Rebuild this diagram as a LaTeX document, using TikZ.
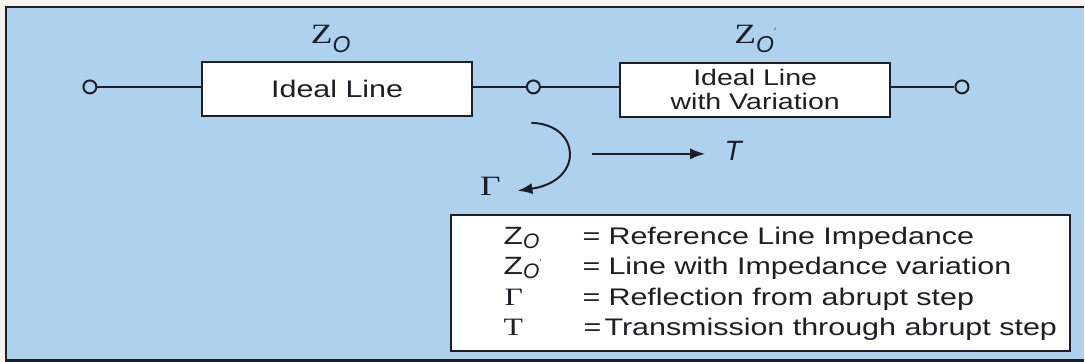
\documentclass[tikz,border=0pt]{standalone}
\usepackage{fontspec}
\setmainfont{Liberation Sans}[FakeStretch=1.27]
\newfontfamily\serifZ{Liberation Serif}[FakeStretch=1.27]
\newfontfamily\plainsans{Liberation Sans}
\usetikzlibrary{arrows.meta}
\definecolor{bgblue}{RGB}{174,209,238}
\definecolor{ink}{RGB}{30,30,36}
\definecolor{cream}{RGB}{246,244,236}
\newcommand{\fsz}[1]{\fontsize{#1}{#1}\selectfont}
\newcommand{\zlab}{{\serifZ Z}\raisebox{-9pt}{\plainsans\itshape\fsz{23}O}}
\newcommand{\zleg}{Z\raisebox{-4pt}{\plainsans\itshape\fsz{21}O}}
\begin{document}
\begin{tikzpicture}[x=1pt,y=-1pt,
  wire/.style={draw=ink,line width=2.1pt},
  term/.style={circle,draw=ink,line width=2pt,fill=bgblue,minimum size=13pt,inner sep=0pt},
  linebox/.style={draw=ink,line width=2pt,fill=white,rectangle,inner sep=0pt,align=center,text=ink},
  txt/.style={inner sep=0pt,text=ink},
  arr/.style={draw=ink,line width=2pt,-{Latex[length=15pt,width=11pt]}},
  frameline/.style={draw=ink,line width=2.4pt},
]
% background and frame
\fill[cream] (0,0) rectangle (1085,362);
\fill[bgblue] (6,7) rectangle (1085,361);
\draw[frameline] (1085,7) -- (6,7) -- (6,361) -- (1085,361);
\useasboundingbox (0,0) rectangle (1085,362);

% boxes
\node[linebox,minimum width=271pt,minimum height=54pt,font=\fsz{24}] (b1) at (337.5,89) {Ideal Line};
\node[linebox,minimum width=270pt,minimum height=54pt,font=\fontsize{22.5}{24}\selectfont] (b2) at (756,90) {Ideal Line\\with Variation};

% terminals
\node[term] (t1) at (90,87) {};
\node[term] (t2) at (534,87) {};
\node[term] (t3) at (963,87) {};

% wires
\draw[wire] (t1) -- (t1 -| b1.west);
\draw[wire] (t2 -| b1.east) -- (t2);
\draw[wire] (t2) -- (t2 -| b2.west);
\draw[wire] (t3 -| b2.east) -- (t3);

% impedance labels
\node[txt,anchor=base west,font=\fsz{28}] (z1) at (311,44) {\zlab};
\node[txt,anchor=base west,font=\fsz{28}] (z2) at (735,44) {\zlab\raisebox{9pt}{\fsz{9}$'$}};

% reflection arrow
\coordinate (gs) at (532,123);
\coordinate (ge) at (518,191);
\draw[arr] (gs) .. controls (581,124) and (586,181) .. (ge);
\node[txt,font=\serifZ\fsz{28}] (gam) at (491,187) {Γ};

% transmission arrow
\coordinate (ts) at (593,154);
\coordinate (te) at (706,154);
\draw[arr] (ts) -- (te);
\node[txt,font=\plainsans\itshape\fsz{28}] (tl) at (734,151) {T};

% legend
\node[draw=ink,line width=2pt,fill=white,minimum width=620pt,minimum height=136pt,inner sep=0pt] (leg) at (761,283) {};
\begin{scope}[every node/.style={txt,anchor=base west,font=\fsz{24}}]
\node (s1) at (504,245) {\fsz{25}\zleg};
\node (e1) at (583,245) {=};
\node (d1) at (609,245) {Reference Line Impedance};
\node (s2) at (504,275) {\fsz{25}\zleg\raisebox{9pt}{\fsz{8}$'$}};
\node (e2) at (583,275) {=};
\node (d2) at (609,275) {Line with Impedance variation};
\node (s3) at (505,306) {\serifZ\fsz{25}Γ};
\node (e3) at (583,306) {=};
\node (d3) at (609,306) {Reflection from abrupt step};
\node (s4) at (504,336) {\serifZ\fsz{25}T};
\node (e4) at (584,336) {=};
\node (d4) at (605,336) {Transmission through abrupt step};
\end{scope}
\end{tikzpicture}
\end{document}
